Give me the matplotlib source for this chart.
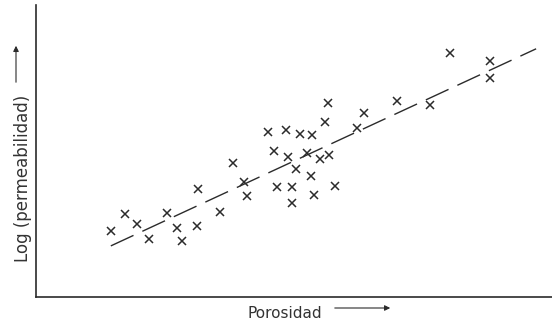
import matplotlib.pyplot as plt

# porosity vs log(permeability), units arbitrary
porosity = [3.77, 4.48, 5.08, 5.68, 6.59, 7.09, 7.34, 8.10, 8.15, 9.26,
            9.91, 10.46, 10.61, 11.67, 11.97, 12.12, 12.58, 12.68, 12.88, 12.88,
            13.08, 13.28, 13.68, 13.88, 13.93, 14.03, 14.29, 14.54, 14.69, 14.74,
            15.09, 16.15, 16.55, 18.21, 19.87, 20.88, 22.89, 22.89]
log_perm = [0.90, 1.14, 1.00, 0.79, 1.15, 0.95, 0.77, 0.97, 1.48, 1.16,
            1.84, 1.58, 1.38, 2.26, 2.00, 1.51, 2.29, 1.92, 1.51, 1.29,
            1.75, 2.23, 1.97, 1.66, 2.22, 1.40, 1.89, 2.40, 2.66, 1.95,
            1.52, 2.32, 2.52, 2.68, 2.63, 3.34, 3.23, 3.00]

fit_x = [3.77, 25.2]
fit_y = [0.70, 3.40]

ink = '#2b2b2b'

fig = plt.figure(figsize=(5.52, 3.24), dpi=100)
ax = fig.add_axes([36/552, 27/324, 516/552, 292/324])

ax.plot(porosity, log_perm, 'x', color=ink, ms=5.5, mew=1.1)
ax.plot(fit_x, fit_y, color=ink, lw=1.0, dashes=(18, 7))

ax.set_xlim(0, 26)
ax.set_ylim(0, 4)
ax.set_xticks([])
ax.set_yticks([])
for s in ['top', 'right']:
    ax.spines[s].set_visible(False)
for s in ['left', 'bottom']:
    ax.spines[s].set_linewidth(1.2)
    ax.spines[s].set_color(ink)

fig.text(23/552, 146/324, 'Log (permeabilidad)', rotation=90, ha='center', va='center',
         fontsize=12, color='#333333')
fig.text(285/552, 11/324, 'Porosidad', ha='center', va='center', fontsize=11, color='#333333')

arrow = dict(arrowstyle='-|>', lw=0.8, color=ink, mutation_scale=8)
fig.add_artist(plt.matplotlib.patches.FancyArrowPatch(
    (16/552, 239/324), (16/552, 281/324), transform=fig.transFigure, **arrow))
fig.add_artist(plt.matplotlib.patches.FancyArrowPatch(
    (332/552, 16/324), (393/552, 16/324), transform=fig.transFigure, **arrow))

fig.savefig('out.png', dpi=100)
